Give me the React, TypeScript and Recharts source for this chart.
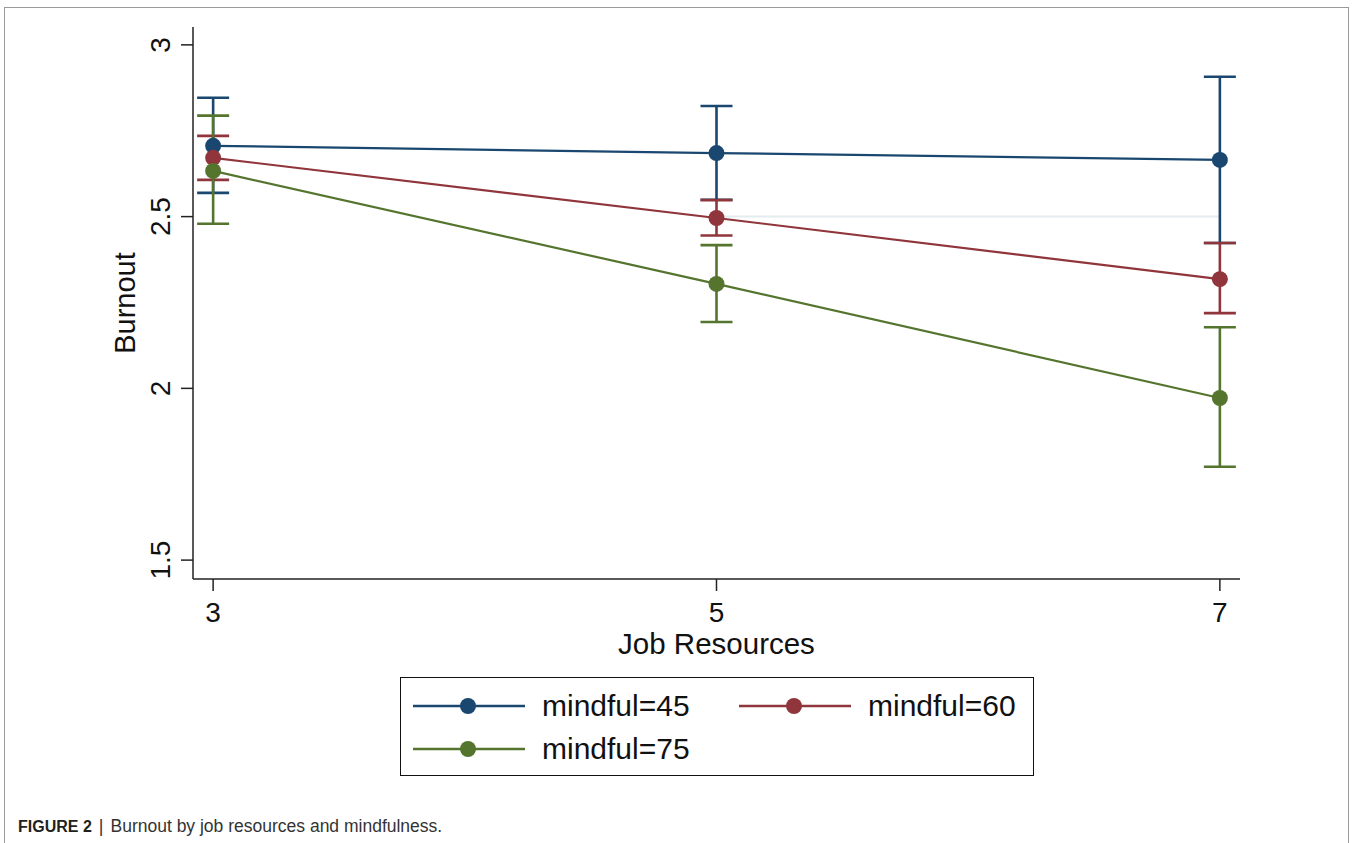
import React from "react";
import {
  LineChart,
  Line,
  XAxis,
  YAxis,
  ErrorBar,
  ReferenceLine,
} from "recharts";

const jobResources = [3, 5, 7];
const xTicks = [3, 5, 7];
const yTicks = [1.5, 2, 2.5, 3];

const m45 = [2.706, 2.685, 2.665];
const m45Lo = [2.569, 2.549, 2.423];
const m45Hi = [2.846, 2.822, 2.907];

const m60 = [2.671, 2.496, 2.318];
const m60Lo = [2.607, 2.445, 2.219];
const m60Hi = [2.735, 2.548, 2.423];

const m75 = [2.633, 2.304, 1.972];
const m75Lo = [2.479, 2.193, 1.772];
const m75Hi = [2.794, 2.417, 2.178];

const series = [
  { key: "m45", name: "mindful=45", color: "#1a476f", values: m45, lo: m45Lo, hi: m45Hi },
  { key: "m60", name: "mindful=60", color: "#90353b", values: m60, lo: m60Lo, hi: m60Hi },
  { key: "m75", name: "mindful=75", color: "#55752f", values: m75, lo: m75Lo, hi: m75Hi },
];

const data = jobResources.map((x, i) => {
  const row: any = { x };
  series.forEach((s) => {
    row[s.key] = s.values[i];
    row[s.key + "Err"] = [s.values[i] - s.lo[i], s.hi[i] - s.values[i]];
  });
  return row;
});

const font = "'Liberation Sans', Arial, Helvetica, sans-serif";

const YTick = (props: any) => {
  const { y, payload } = props;
  return (
    <text
      x={170}
      y={y}
      transform={`rotate(-90, 170, ${y})`}
      textAnchor="middle"
      fontSize={28}
      fill="#111"
      fontFamily={font}
    >
      {payload.value}
    </text>
  );
};

const XTick = (props: any) => {
  const { x, payload } = props;
  return (
    <text x={x} y={622} textAnchor="middle" fontSize={28} fill="#111" fontFamily={font}>
      {payload.value}
    </text>
  );
};

const LegendItem = ({ s }: any) => (
  <div style={{ display: "flex", alignItems: "center", height: 34 }}>
    <svg width={114} height={20} style={{ display: "block" }}>
      <line x1={1} y1={10} x2={113} y2={10} stroke={s.color} strokeWidth={2.5} />
      <circle cx={56} cy={10} r={8} fill={s.color} />
    </svg>
    <span style={{ marginLeft: 16, fontSize: 30, color: "#111", fontFamily: font }}>{s.name}</span>
  </div>
);

export default function App() {
  return (
    <div style={{ position: "absolute", left: 0, top: 0, width: 1357, height: 843, background: "#fff" }}>
      {/* outer figure frame */}
      <div
        style={{
          position: "absolute",
          left: 4,
          top: 7,
          width: 1345,
          height: 840,
          borderTop: "1.5px solid #9a9a9a",
          borderLeft: "1.5px solid #9a9a9a",
          borderRight: "1.5px solid #9a9a9a",
          boxSizing: "border-box",
        }}
      />
      <LineChart
        width={1357}
        height={843}
        data={data}
        margin={{ top: 27, right: 117, left: 133, bottom: 204 }}
        style={{ position: "absolute", left: 0, top: 0 }}
      >
        <ReferenceLine
          segment={[
            { x: 5, y: 2.5 },
            { x: 7, y: 2.5 },
          ]}
          stroke="#e3ecef"
          strokeWidth={2}
        />
        <XAxis
          type="number"
          dataKey="x"
          domain={[2.92, 7.08]}
          ticks={xTicks}
          allowDataOverflow
          height={60}
          tickSize={12}
          axisLine={{ stroke: "#222", strokeWidth: 1.5 }}
          tickLine={{ stroke: "#222", strokeWidth: 1.5 }}
          tick={<XTick />}
          label={{
            content: (p: any) => {
              const vb = p.viewBox || {};
              return (
                <text
                  x={vb.x + vb.width / 2}
                  y={654}
                  textAnchor="middle"
                  fontSize={29.5}
                  fill="#111"
                  fontFamily={font}
                >
                  Job Resources
                </text>
              );
            },
          }}
        />
        <YAxis
          type="number"
          domain={[1.445, 3.052]}
          ticks={yTicks}
          allowDataOverflow
          width={60}
          tickSize={12}
          axisLine={{ stroke: "#222", strokeWidth: 1.5 }}
          tickLine={{ stroke: "#222", strokeWidth: 1.5 }}
          tick={<YTick />}
          label={{
            content: (p: any) => {
              const vb = p.viewBox || {};
              const cy = vb.y + vb.height / 2;
              return (
                <text
                  x={135}
                  y={cy}
                  transform={`rotate(-90, 135, ${cy})`}
                  textAnchor="middle"
                  fontSize={29}
                  fill="#111"
                  fontFamily={font}
                >
                  Burnout
                </text>
              );
            },
          }}
        />
        {series.map((s) => (
          <Line
            key={s.key}
            type="linear"
            dataKey={s.key}
            name={s.name}
            stroke={s.color}
            strokeWidth={2.2}
            dot={{ r: 8, fill: s.color, stroke: s.color, strokeWidth: 0 }}
            activeDot={false}
            isAnimationActive={false}
          >
            <ErrorBar
              dataKey={s.key + "Err"}
              direction="y"
              width={16}
              stroke={s.color}
              strokeWidth={2.6}
              isAnimationActive={false}
            />
          </Line>
        ))}
      </LineChart>

      {/* legend */}
      <div
        style={{
          position: "absolute",
          left: 400,
          top: 677,
          width: 634,
          height: 99,
          border: "1.5px solid #111",
          boxSizing: "border-box",
          background: "#fff",
        }}
      >
        <div style={{ position: "absolute", left: 11, top: 11 }}>
          <LegendItem s={series[0]} />
        </div>
        <div style={{ position: "absolute", left: 337, top: 11 }}>
          <LegendItem s={series[1]} />
        </div>
        <div style={{ position: "absolute", left: 11, top: 54 }}>
          <LegendItem s={series[2]} />
        </div>
      </div>

      {/* caption */}
      <div
        style={{
          position: "absolute",
          left: 18,
          top: 816,
          fontFamily: font,
          color: "#333",
          whiteSpace: "nowrap",
          display: "flex",
          alignItems: "baseline",
        }}
      >
        <span style={{ fontWeight: "bold", color: "#231f20", fontSize: 16 }}>FIGURE 2</span>
        <span style={{ margin: "0 7px", fontSize: 18 }}>|</span>
        <span style={{ fontSize: 17.5 }}>Burnout by job resources and mindfulness.</span>
      </div>
    </div>
  );
}
